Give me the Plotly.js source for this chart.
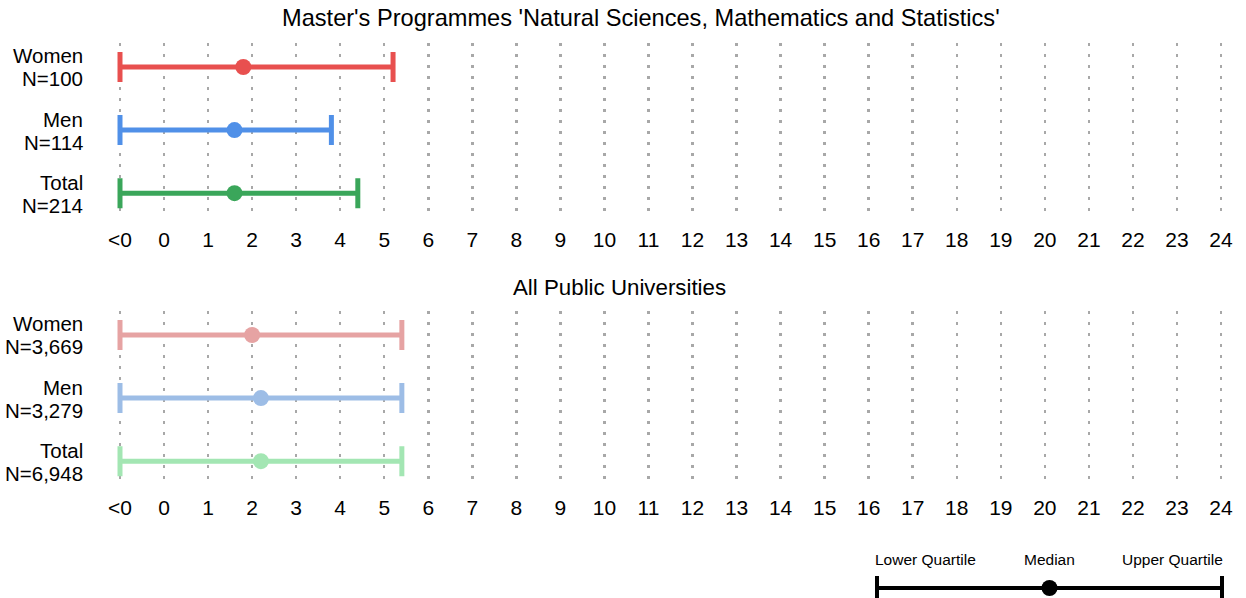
<!DOCTYPE html>
<html><head><meta charset="utf-8">
<script src="https://cdn.plot.ly/plotly-3.0.1.min.js"></script>
<style>html,body{margin:0;padding:0;background:#fff}#chart{width:1246px;height:598px}</style>
</head><body><div id="chart"></div>
<script>
const groups = ["Women", "Men", "Total"];
const rowPos = [3, 2, 1];
const topTitle = "Master's Programmes 'Natural Sciences, Mathematics and Statistics'";
const bottomTitle = "All Public Universities";
const topN = ["N=100", "N=114", "N=214"];
const bottomN = ["N=3,669", "N=3,279", "N=6,948"];
const topLower = [-1, -1, -1];
const topMedian = [1.8, 1.6, 1.6];
const topUpper = [5.2, 3.8, 4.4];
const bottomLower = [-1, -1, -1];
const bottomMedian = [2.0, 2.2, 2.2];
const bottomUpper = [5.4, 5.4, 5.4];
const topColors = ["#e8504f", "#5090e8", "#3aa65a"];
const bottomColors = ["#e6a3a3", "#9dbde6", "#a3e6b3"];
const tickVals = [-1,0,1,2,3,4,5,6,7,8,9,10,11,12,13,14,15,16,17,18,19,20,21,22,23,24];
const tickText = ["<0","0","1","2","3","4","5","6","7","8","9","10","11","12","13","14","15","16","17","18","19","20","21","22","23","24"];
const legendLabels = ["Lower Quartile", "Median", "Upper Quartile"];
const legendVals = [-1, 0, 1];

const W = 1246, H = 598;
const px = v => v / W, py = v => 1 - v / H;
const FONT = "Liberation Sans, Arial, sans-serif";

const traces = [];
function addPanel(lower, median, upper, colors, xa, ya) {
  for (let i = 0; i < groups.length; i++) {
    traces.push({
      type: "scatter", mode: "markers", xaxis: xa, yaxis: ya,
      x: [median[i]], y: [rowPos[i]],
      marker: {color: colors[i], size: 16},
      error_x: {type: "data", symmetric: false, array: [upper[i] - median[i]],
        arrayminus: [median[i] - lower[i]], color: colors[i], thickness: 5, width: 15},
      hoverinfo: "skip", showlegend: false
    });
  }
}
addPanel(topLower, topMedian, topUpper, topColors, "x", "y");
addPanel(bottomLower, bottomMedian, bottomUpper, bottomColors, "x2", "y2");
traces.push({
  type: "scatter", mode: "markers", xaxis: "x3", yaxis: "y3",
  x: [legendVals[1]], y: [0], marker: {color: "#000", size: 16},
  error_x: {type: "data", symmetric: false, array: [legendVals[2] - legendVals[1]],
    arrayminus: [legendVals[1] - legendVals[0]], color: "#000", thickness: 4, width: 12},
  hoverinfo: "skip", showlegend: false
});

const xRange = [-1.2, 24.2];
const xDomain = [px(120 - 0.2 * 44.04), px(1221 + 0.2 * 44.04)];
function xAxis(anchor) {
  return {domain: xDomain, range: xRange, anchor: anchor, tickvals: tickVals, ticktext: tickText,
    showgrid: true, gridcolor: "#a8a8a8", gridwidth: 2.5, griddash: "2.5px,8.5px",
    zeroline: false, showline: false, ticks: "", tickfont: {size: 21, color: "#000", family: FONT},
    ticklabelstandoff: 9, fixedrange: true};
}
function yAxis(anchor, topPx, botPx) {
  return {domain: [py(botPx), py(topPx)], range: [0.635, 3.38], anchor: anchor,
    showgrid: false, zeroline: false, showticklabels: false, ticks: "", showline: false};
}

const annotations = [];
function addLabels(ns, ya) {
  for (let i = 0; i < groups.length; i++) {
    annotations.push({xref: "paper", yref: ya, x: px(85), y: rowPos[i], xanchor: "right", yanchor: "middle",
      text: groups[i], showarrow: false, yshift: 11, font: {size: 20.5, color: "#000", family: FONT}});
    annotations.push({xref: "paper", yref: ya, x: px(85), y: rowPos[i], xanchor: "right", yanchor: "middle",
      text: ns[i], showarrow: false, yshift: -12, font: {size: 20.5, color: "#000", family: FONT}});
  }
}
addLabels(topN, "y");
addLabels(bottomN, "y2");
annotations.push({xref: "paper", yref: "paper", x: px(641), y: py(18), xanchor: "center", yanchor: "middle",
  text: topTitle, showarrow: false, font: {size: 23.6, color: "#000", family: FONT}});
annotations.push({xref: "paper", yref: "paper", x: px(619), y: py(287), xanchor: "center", yanchor: "middle",
  text: bottomTitle, showarrow: false, font: {size: 22.3, color: "#000", family: FONT}});
const legendAnchors = ["left", "center", "right"];
const legendShift = [-3, 0, 2];
for (let i = 0; i < legendLabels.length; i++) {
  annotations.push({xref: "x3", yref: "paper", x: legendVals[i], y: py(559), xanchor: legendAnchors[i],
    yanchor: "middle", xshift: legendShift[i], borderpad: 0,
    text: legendLabels[i], showarrow: false, font: {size: 15.5, color: "#000", family: FONT}});
}

const layout = {
  width: W, height: H, margin: {l: 0, r: 0, t: 0, b: 0},
  paper_bgcolor: "#fff", plot_bgcolor: "#fff", showlegend: false,
  font: {family: FONT, color: "#000"},
  xaxis: xAxis("y"), yaxis: yAxis("x", 43, 216.25),
  xaxis2: xAxis("y2"), yaxis2: yAxis("x2", 311, 484.25),
  xaxis3: {domain: [px(877 - 0.05 * 172.5), px(1222 + 0.05 * 172.5)], range: [-1.05, 1.05], anchor: "y3",
    visible: false, fixedrange: true},
  yaxis3: {domain: [0, 30 / H], range: [-1, 2], anchor: "x3", visible: false, fixedrange: true},
  annotations: annotations
};
Plotly.newPlot("chart", traces, layout, {staticPlot: true, displayModeBar: false});
</script></body></html>
